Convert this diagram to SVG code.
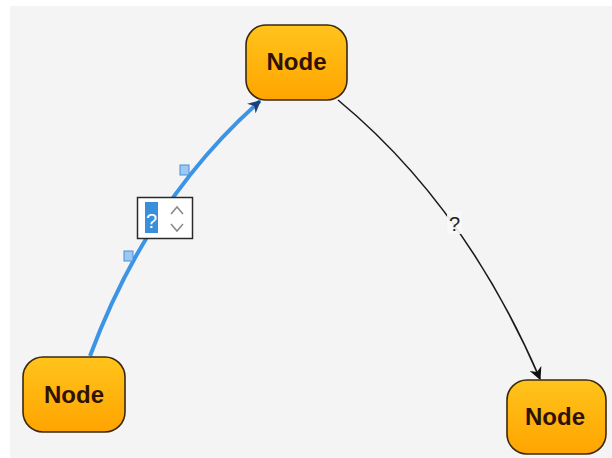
<svg xmlns="http://www.w3.org/2000/svg" width="612" height="458" viewBox="0 0 612 458">
<defs>
<linearGradient id="nodeFill" x1="0" y1="0" x2="0" y2="1">
<stop offset="0" stop-color="#ffc41c"/>
<stop offset="1" stop-color="#ffa400"/>
</linearGradient>
<marker id="arrowBlue" viewBox="0 0 10 10" refX="9" refY="5" markerWidth="3.2" markerHeight="3.2" orient="auto" markerUnits="strokeWidth">
<path d="M0,0 L10,5 L0,10 L3,5 z" fill="#1d3f73"/>
</marker>
<marker id="arrowBlack" viewBox="0 0 10 10" refX="9" refY="5" markerWidth="8" markerHeight="8" orient="auto" markerUnits="strokeWidth">
<path d="M0,0 L10,5 L0,10 L3,5 z" fill="#111"/>
</marker>
</defs>
<style>
.node rect{fill:url(#nodeFill);stroke:#3a2812;stroke-width:1.6}
.node text{font-family:"Liberation Sans",Arial,sans-serif;font-weight:bold;font-size:24px;fill:#2e1208;text-anchor:middle}
.handle{fill:#9cc9f4;stroke:#4a8fd4;stroke-width:1}
.lbl{font-family:"Liberation Sans",Arial,sans-serif;font-size:20px;text-anchor:middle}
</style>
<rect x="0" y="0" width="612" height="458" fill="#ffffff"/>
<rect x="10" y="6" width="602" height="452" fill="#f4f4f4"/>
<g id="connectors">
<path d="M90,356 Q148,200 260,101" fill="none" stroke="#3b94e6" stroke-width="4" marker-end="url(#arrowBlue)"/>
<path d="M338,100 Q465,205 540,379" fill="none" stroke="#1a1a1a" stroke-width="1.6" marker-end="url(#arrowBlack)"/>
<rect class="handle" x="124" y="251" width="9" height="10"/>
<rect class="handle" x="180" y="165" width="9" height="10"/>
<g id="edgeLabelEditor">
<rect x="137.5" y="197.5" width="55" height="41" fill="#ffffff" stroke="#2a2a2a" stroke-width="1.5"/>
<rect x="145" y="202" width="13" height="31" fill="#3a8fdc"/>
<text class="lbl" x="151.5" y="228" fill="#ffffff" font-size="27">?</text>
<path d="M171,214 L177,207 L183,214" fill="none" stroke="#888" stroke-width="1.5"/>
<path d="M171,224 L177,231 L183,224" fill="none" stroke="#888" stroke-width="1.5"/>
</g>
<g id="edgeLabel2">
<rect x="447" y="211" width="15" height="23" fill="#f8f8f8" opacity="0.9"/>
<text class="lbl" x="454.5" y="231" fill="#222">?</text>
</g>
</g>
<g id="node1" class="node">
<rect x="246" y="25" width="101" height="75" rx="20" ry="20"/>
<text x="296.5" y="70">Node</text>
</g>
<g id="node2" class="node">
<rect x="23" y="357" width="102" height="75" rx="20" ry="20"/>
<text x="74" y="403">Node</text>
</g>
<g id="node3" class="node">
<rect x="507" y="380" width="99" height="74" rx="20" ry="20"/>
<text x="555" y="425">Node</text>
</g>
</svg>
